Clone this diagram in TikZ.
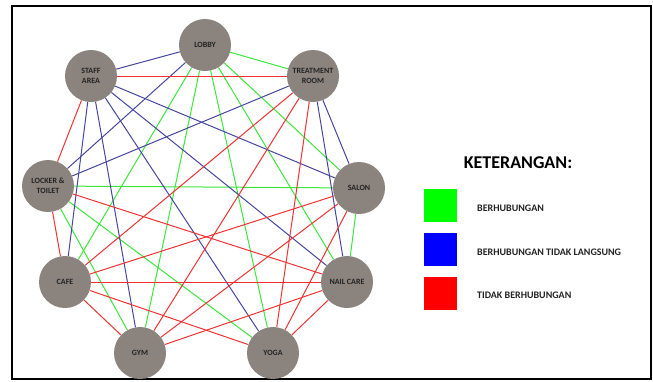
\documentclass[tikz,border=0pt]{standalone}
\usepackage{fontspec}
\setmainfont{Carlito}
\begin{document}
\pgfdeclarelayer{bg}
\pgfsetlayers{bg,main}
\definecolor{nodegray}{RGB}{139,131,126}
\definecolor{egreen}{RGB}{60,230,60}
\definecolor{eblue}{RGB}{70,70,160}
\definecolor{ered}{RGB}{240,50,50}
\definecolor{txt}{RGB}{35,35,35}
\begin{tikzpicture}[x=1pt,y=-1pt,
  room/.style={circle,fill=nodegray,minimum size=52pt,inner sep=0pt,align=center,
    font=\fontsize{8}{10}\selectfont\bfseries,text=txt},
  gl/.style={draw=egreen,line width=1pt},
  bl/.style={draw=eblue,line width=1pt},
  rl/.style={draw=ered,line width=1pt},
  legbox/.style={minimum size=33pt,inner sep=0pt},
  legtext/.style={anchor=west,font=\fontsize{10}{12}\selectfont\bfseries,text=txt,inner sep=0pt}]
\useasboundingbox (0,0) rectangle (653,381);
\node[draw=black,line width=2pt,minimum width=639pt,minimum height=373pt,inner sep=0pt] (frame) at (331.5,192.5) {};
\node[room] (L) at (205,45) {LOBBY};
\node[room] (A) at (91,76) {STAFF\\AREA};
\node[room] (T) at (313,76) {TREATMENT\\ROOM};
\node[room] (K) at (48,186) {LOCKER \&\\TOILET};
\node[room] (S) at (359,188) {SALON};
\node[room] (C) at (65,282) {CAFE};
\node[room] (N) at (347,282) {NAIL CARE};
\node[room] (G) at (140,353) {GYM};
\node[room] (Y) at (273,353) {YOGA};
\begin{pgfonlayer}{bg}
\foreach \a/\b in {L/T,L/C,L/G,L/Y,L/N,L/S,K/S,K/G,K/Y,S/N}
  \draw[gl] (\a) -- (\b);
\foreach \a/\b in {L/A,L/K,A/C,A/G,A/Y,A/N,A/S,T/K,T/N,T/S}
  \draw[bl] (\a) -- (\b);
\foreach \a/\b in {A/T,A/K,T/C,T/G,T/Y,K/C,K/N,S/C,S/G,S/Y,C/N,C/G,C/Y,N/G,N/Y}
  \draw[rl] (\a) -- (\b);
\end{pgfonlayer}
\node[font=\fontsize{18}{20}\selectfont\bfseries,text=black] (title) at (518,163) {KETERANGAN:};
\node[legbox,fill={rgb,255:red,0;green,255;blue,0}] (bg1) at (440.5,205.5) {};
\node[legbox,fill={rgb,255:red,0;green,0;blue,255}] (bb1) at (440.5,249) {};
\node[legbox,fill={rgb,255:red,255;green,0;blue,0}] (br1) at (440.5,293) {};
\node[legtext] (t1) at (477,208) {BERHUBUNGAN};
\node[legtext] (t2) at (477,252) {BERHUBUNGAN TIDAK LANGSUNG};
\node[legtext] (t3) at (477,295) {TIDAK BERHUBUNGAN};
\end{tikzpicture}
\end{document}
